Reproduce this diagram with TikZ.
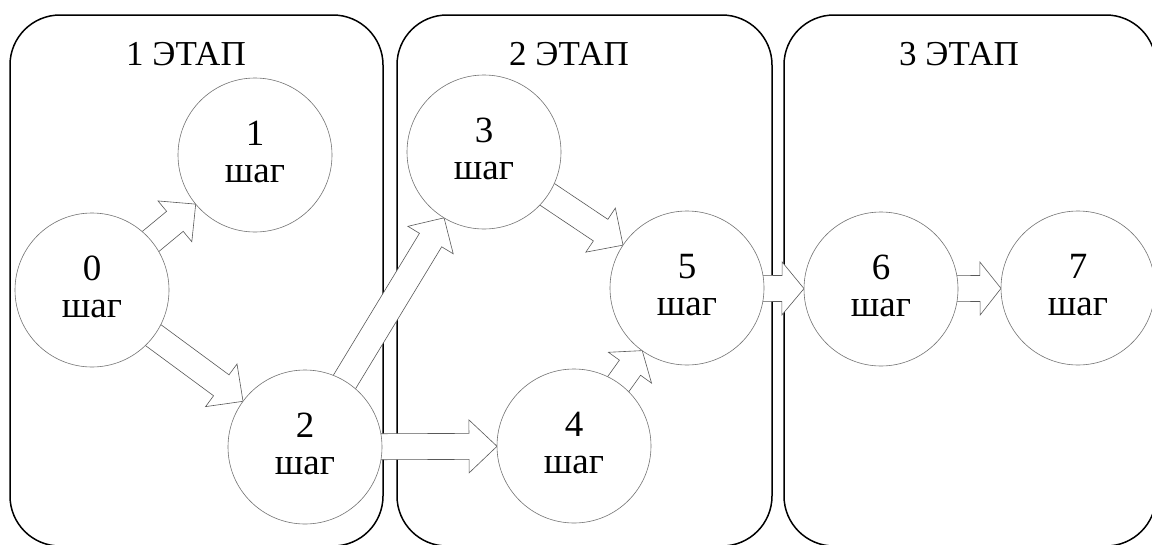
\documentclass[tikz,border=0pt]{standalone}
\usepackage{fontspec}
\setmainfont{Liberation Serif}
\usetikzlibrary{calc}
\tikzset{
  stagebox/.style={draw=black, line width=1.5pt, rounded corners=50pt},
  stagetitle/.style={anchor=base, inner sep=0pt, font=\fontsize{35}{35}\selectfont},
  stepnode/.style={circle, draw=black!55, line width=0.6pt, fill=white, minimum size=154pt,
    inner sep=0pt, align=center, font=\fontsize{37}{37}\selectfont},
  blockarrow/.style={draw=black!65, line width=0.6pt, fill=white, line join=miter}
}
\newcommand\blkarrow[3]{%
  \coordinate (ba-s) at ($(#1.center)!60pt!(#2.center)$);
  \coordinate (ba-t) at ($(#2.center)!77pt!(#1.center)$);
  \coordinate (ba-h) at ($(ba-t)!#3!(#1.center)$);
  \draw[blockarrow] ($(ba-s)!13pt!90:(#2.center)$) -- ($(ba-h)!13pt!90:(#2.center)$)
    -- ($(ba-h)!26.5pt!90:(#2.center)$) -- (ba-t) -- ($(ba-h)!26.5pt!-90:(#2.center)$)
    -- ($(ba-h)!13pt!-90:(#2.center)$) -- ($(ba-s)!13pt!-90:(#2.center)$) -- cycle;
}
\newcommand\stepdepth{\rule[-7pt]{0pt}{7pt}}
\begin{document}
\begin{tikzpicture}[x=1pt,y=-1pt]
\useasboundingbox (0,0) rectangle (1152,544);
\clip (0,0) rectangle (1152,544);
\fill[white] (0,0) rectangle (1152,544);
% stages
\draw[stagebox] (10,15) rectangle (383,546);
\draw[stagebox] (397,15) rectangle (772,546);
\draw[stagebox] (784,15) rectangle (1156,546);
\node[stagetitle] (t1) at (186,65) {1 ЭТАП};
\node[stagetitle] (t2) at (569,65) {2 ЭТАП};
\node[stagetitle] (t3) at (959,65) {3 ЭТАП};
% step coordinates (circles drawn after arrows)
\path (92,290) coordinate (p0) (255,155) coordinate (p1) (305,447) coordinate (p2)
      (484,152) coordinate (p3) (574,446) coordinate (p4) (687,288) coordinate (p5)
      (881,289) coordinate (p6) (1078,288) coordinate (p7);
\blkarrow{p0}{p1}{27pt}
\blkarrow{p0}{p2}{27pt}
\blkarrow{p2}{p3}{26pt}
\blkarrow{p2}{p4}{28pt}
\blkarrow{p3}{p5}{27pt}
\blkarrow{p4}{p5}{21pt}
\blkarrow{p5}{p6}{22pt}
\blkarrow{p6}{p7}{21pt}
% steps
\node[stepnode] (c0) at (p0) {0\\шаг\stepdepth};
\node[stepnode] (c1) at (p1) {1\\шаг\stepdepth};
\node[stepnode] (c2) at (p2) {2\\шаг\stepdepth};
\node[stepnode] (c3) at (p3) {3\\шаг\stepdepth};
\node[stepnode] (c4) at (p4) {4\\шаг\stepdepth};
\node[stepnode] (c5) at (p5) {5\\шаг\stepdepth};
\node[stepnode] (c6) at (p6) {6\\шаг\stepdepth};
\node[stepnode] (c7) at (p7) {7\\шаг\stepdepth};
\end{tikzpicture}
\end{document}
